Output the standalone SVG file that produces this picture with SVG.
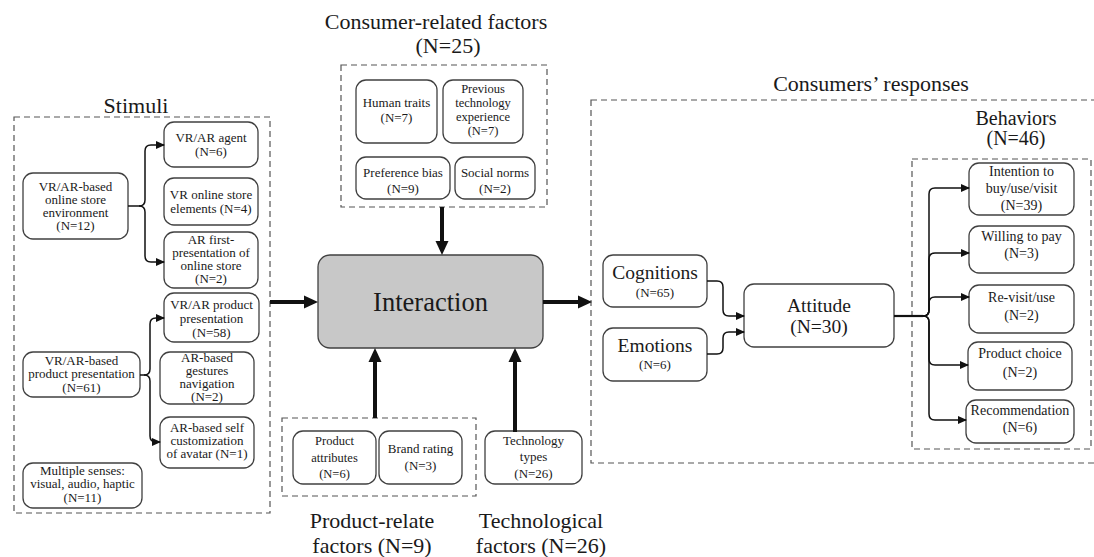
<svg xmlns="http://www.w3.org/2000/svg" width="1094" height="557" viewBox="0 0 1094 557" font-family="'Liberation Serif', 'DejaVu Serif', serif">
  <style>
    text { font-family: "Liberation Serif", "DejaVu Serif", serif; fill: #1a1a1a; text-anchor: middle; }
    .box { fill: #ffffff; stroke: #404040; stroke-width: 1.3; }
    .frame { fill: none; stroke: #555555; stroke-width: 1.2; stroke-dasharray: 6 4; }
    .t13 { font-size: 13px; }
    .t12 { font-size: 12.5px; }
    .t14 { font-size: 14px; }
    .t19 { font-size: 19.5px; }
    .t20 { font-size: 20px; }
    .t22 { font-size: 22px; }
    .thin { fill: none; stroke: #111111; stroke-width: 1.5; marker-end: url(#headThin); }
    .plain { fill: none; stroke: #111111; stroke-width: 1.5; }
    .thick { fill: none; stroke: #111111; stroke-width: 4; marker-end: url(#headThick); }
  </style>
  <defs>
    <marker id="headThin" viewBox="0 0 9 8" refX="8" refY="4" markerWidth="9" markerHeight="8" markerUnits="userSpaceOnUse" orient="auto">
      <path d="M0,0 L9,4 L0,8 z" fill="#111111"/>
    </marker>
    <marker id="headThick" viewBox="0 0 14 14" refX="3" refY="7" markerWidth="14" markerHeight="14" markerUnits="userSpaceOnUse" orient="auto">
      <path d="M0,0.5 L14,7 L0,13.5 z" fill="#111111"/>
    </marker>
  </defs>

  <!-- group frames and titles -->
  <g id="stimuli">
    <rect class="frame" x="14" y="117" width="256" height="396"/>
    <text class="t22" x="136" y="113">Stimuli</text>
  </g>
  <g id="consumer-factors">
    <rect class="frame" x="341" y="65" width="206" height="142"/>
    <text class="t22" x="436" y="29">Consumer-related factors</text>
    <text class="t22" x="448" y="53">(N=25)</text>
  </g>
  <g id="product-factors">
    <rect class="frame" x="282" y="418" width="194" height="78"/>
    <text class="t22" x="372" y="528">Product-relate</text>
    <text class="t22" x="372" y="553">factors (N=9)</text>
  </g>
  <g id="tech-factors">
    <text class="t22" x="541" y="528">Technological</text>
    <text class="t22" x="541" y="553">factors (N=26)</text>
  </g>
  <g id="responses">
    <rect class="frame" x="591" y="100" width="520" height="363"/>
    <text class="t22" x="871" y="91">Consumers’ responses</text>
  </g>
  <g id="behaviors">
    <rect class="frame" x="912" y="159" width="179" height="290"/>
    <text class="t20" x="1016" y="125">Behaviors</text>
    <text class="t20" x="1016" y="145">(N=46)</text>
  </g>

  <!-- stimuli nodes -->
  <g id="n-store-env">
    <rect class="box" x="23" y="173" width="105" height="66" rx="10"/>
    <text class="t13"><tspan x="75.5" y="191">VR/AR-based</tspan><tspan x="75.5" y="204">online store</tspan><tspan x="75.5" y="217">environment</tspan><tspan x="75.5" y="230">(N=12)</tspan></text>
  </g>
  <g id="n-agent">
    <rect class="box" x="164" y="122" width="94" height="45" rx="10"/>
    <text class="t13"><tspan x="211" y="142">VR/AR agent</tspan><tspan x="211" y="156">(N=6)</tspan></text>
  </g>
  <g id="n-store-elements">
    <rect class="box" x="164" y="178" width="94" height="47" rx="10"/>
    <text class="t13"><tspan x="211" y="199">VR online store</tspan><tspan x="211" y="213">elements (N=4)</tspan></text>
  </g>
  <g id="n-first-presentation">
    <rect class="box" x="164" y="232" width="94" height="56" rx="10"/>
    <text class="t13"><tspan x="211" y="244">AR first-</tspan><tspan x="211" y="257">presentation of</tspan><tspan x="211" y="270">online store</tspan><tspan x="211" y="283">(N=2)</tspan></text>
  </g>
  <g id="n-product-pres">
    <rect class="box" x="23" y="352" width="117" height="45" rx="10"/>
    <text class="t13"><tspan x="81.5" y="365">VR/AR-based</tspan><tspan x="81.5" y="378">product presentation</tspan><tspan x="81.5" y="392">(N=61)</tspan></text>
  </g>
  <g id="n-vrar-product">
    <rect class="box" x="164" y="293" width="95" height="49" rx="10"/>
    <text class="t13"><tspan x="211.5" y="309">VR/AR product</tspan><tspan x="211.5" y="323">presentation</tspan><tspan x="211.5" y="337">(N=58)</tspan></text>
  </g>
  <g id="n-gestures">
    <rect class="box" x="160" y="352" width="94" height="52" rx="10"/>
    <text class="t13"><tspan x="207" y="362">AR-based</tspan><tspan x="207" y="375">gestures</tspan><tspan x="207" y="388">navigation</tspan><tspan x="207" y="401">(N=2)</tspan></text>
  </g>
  <g id="n-avatar">
    <rect class="box" x="160" y="417" width="94" height="51" rx="10"/>
    <text class="t13"><tspan x="207" y="432">AR-based self</tspan><tspan x="207" y="445">customization</tspan><tspan x="207" y="458">of avatar (N=1)</tspan></text>
  </g>
  <g id="n-senses">
    <rect class="box" x="23" y="463" width="119" height="45" rx="10"/>
    <text class="t13"><tspan x="82.5" y="475">Multiple senses:</tspan><tspan x="82.5" y="488">visual, audio, haptic</tspan><tspan x="82.5" y="502">(N=11)</tspan></text>
  </g>

  <!-- consumer-related factor nodes -->
  <g id="n-human-traits">
    <rect class="box" x="356" y="80" width="81" height="63" rx="10"/>
    <text class="t13"><tspan x="396.5" y="107">Human traits</tspan><tspan x="396.5" y="122">(N=7)</tspan></text>
  </g>
  <g id="n-prev-tech">
    <rect class="box" x="443" y="80" width="80" height="63" rx="10"/>
    <text class="t12"><tspan x="483" y="93">Previous</tspan><tspan x="483" y="107">technology</tspan><tspan x="483" y="121">experience</tspan><tspan x="483" y="135">(N=7)</tspan></text>
  </g>
  <g id="n-preference">
    <rect class="box" x="356" y="157" width="94" height="42" rx="10"/>
    <text class="t13"><tspan x="403" y="177">Preference bias</tspan><tspan x="403" y="193">(N=9)</tspan></text>
  </g>
  <g id="n-social">
    <rect class="box" x="455" y="157" width="80" height="42" rx="10"/>
    <text class="t13"><tspan x="495" y="177">Social norms</tspan><tspan x="495" y="193">(N=2)</tspan></text>
  </g>

  <!-- product and technology nodes -->
  <g id="n-product-attr">
    <rect class="box" x="293" y="431" width="83" height="53" rx="10"/>
    <text class="t12"><tspan x="334.5" y="445">Product</tspan><tspan x="334.5" y="462">attributes</tspan><tspan x="334.5" y="478">(N=6)</tspan></text>
  </g>
  <g id="n-brand">
    <rect class="box" x="379" y="431" width="83" height="53" rx="10"/>
    <text class="t13"><tspan x="420.5" y="453">Brand rating</tspan><tspan x="420.5" y="470">(N=3)</tspan></text>
  </g>
  <g id="n-tech-types">
    <rect class="box" x="485" y="431" width="97" height="53" rx="10"/>
    <text class="t13"><tspan x="533.5" y="445">Technology</tspan><tspan x="533.5" y="461">types</tspan><tspan x="533.5" y="478">(N=26)</tspan></text>
  </g>

  <!-- central node -->
  <g id="n-interaction">
    <rect x="318" y="255" width="225" height="93" rx="12" fill="#c8c8c8" stroke="#404040" stroke-width="1.3"/>
    <text x="430.5" y="311" style="font-size:26.5px">Interaction</text>
  </g>

  <!-- response nodes -->
  <g id="n-cognitions">
    <rect class="box" x="603" y="255" width="104" height="52" rx="10"/>
    <text class="t19" x="655" y="279">Cognitions</text>
    <text class="t13" x="655" y="297">(N=65)</text>
  </g>
  <g id="n-emotions">
    <rect class="box" x="603" y="328" width="104" height="53" rx="10"/>
    <text class="t19" x="655" y="352">Emotions</text>
    <text class="t13" x="655" y="369">(N=6)</text>
  </g>
  <g id="n-attitude">
    <rect class="box" x="744" y="284" width="150" height="63" rx="10"/>
    <text class="t19"><tspan x="819" y="312">Attitude</tspan><tspan x="819" y="333">(N=30)</tspan></text>
  </g>

  <!-- behavior nodes -->
  <g id="n-intention">
    <rect class="box" x="969" y="163" width="105" height="52" rx="10"/>
    <text class="t14"><tspan x="1021.5" y="176">Intention to</tspan><tspan x="1021.5" y="193">buy/use/visit</tspan><tspan x="1021.5" y="210">(N=39)</tspan></text>
  </g>
  <g id="n-willing">
    <rect class="box" x="969" y="226" width="105" height="47" rx="10"/>
    <text class="t14"><tspan x="1021.5" y="241">Willing to pay</tspan><tspan x="1021.5" y="258">(N=3)</tspan></text>
  </g>
  <g id="n-revisit">
    <rect class="box" x="969" y="285" width="105" height="48" rx="10"/>
    <text class="t14"><tspan x="1021.5" y="302">Re-visit/use</tspan><tspan x="1021.5" y="320">(N=2)</tspan></text>
  </g>
  <g id="n-choice">
    <rect class="box" x="968" y="342" width="104" height="48" rx="10"/>
    <text class="t14"><tspan x="1020" y="358">Product choice</tspan><tspan x="1020" y="377">(N=2)</tspan></text>
  </g>
  <g id="n-recommend">
    <rect class="box" x="966" y="400" width="108" height="43" rx="10"/>
    <text class="t14"><tspan x="1020" y="415">Recommendation</tspan><tspan x="1020" y="432">(N=6)</tspan></text>
  </g>

  <!-- connectors -->
  <g id="connectors">
    <!-- store environment branch -->
    <path class="plain" d="M128,206 H139"/>
    <path class="thin" d="M139,206 Q145,206 145,200 V151 Q145,145 151,145 H164"/>
    <path class="thin" d="M139,206 Q145,206 145,212 V256 Q145,262 151,262 H164"/>
    <!-- product presentation branch -->
    <path class="plain" d="M140,375 H144"/>
    <path class="thin" d="M144,375 Q150,375 150,369 V324 Q150,318 156,318 H164"/>
    <path class="thin" d="M144,375 Q150,375 150,381 V436 Q150,442 156,442 H160"/>

    <!-- main flow -->
    <path class="thick" d="M270,302 H307"/>
    <path class="thick" d="M442,207 V244"/>
    <path class="thick" d="M375,418 V359"/>
    <path class="thick" d="M515,432 V359"/>
    <path class="thick" d="M543,302 H581"/>

    <!-- cognitions / emotions to attitude -->
    <path class="thin" d="M707,281 H717 Q723,281 723,287 V310 Q723,316 729,316 H744"/>
    <path class="thin" d="M707,354 H717 Q723,354 723,348 V338 Q723,332 729,332 H744"/>

    <!-- attitude to behaviors -->
    <path fill="none" stroke="#111111" stroke-width="2.2" d="M894,316 H923"/>
    <path class="thin" d="M923,316 Q929,316 929,310 V194 Q929,188 935,188 H969"/>
    <path class="thin" d="M923,316 Q929,316 929,310 V259 Q929,253 935,253 H969"/>
    <path class="thin" d="M923,316 Q929,316 929,310 V303 Q929,297 935,297 H969"/>
    <path class="thin" d="M923,316 Q929,316 929,322 V359 Q929,365 935,365 H968"/>
    <path class="thin" d="M923,316 Q929,316 929,322 V414 Q929,420 935,420 H966"/>
  </g>
</svg>
